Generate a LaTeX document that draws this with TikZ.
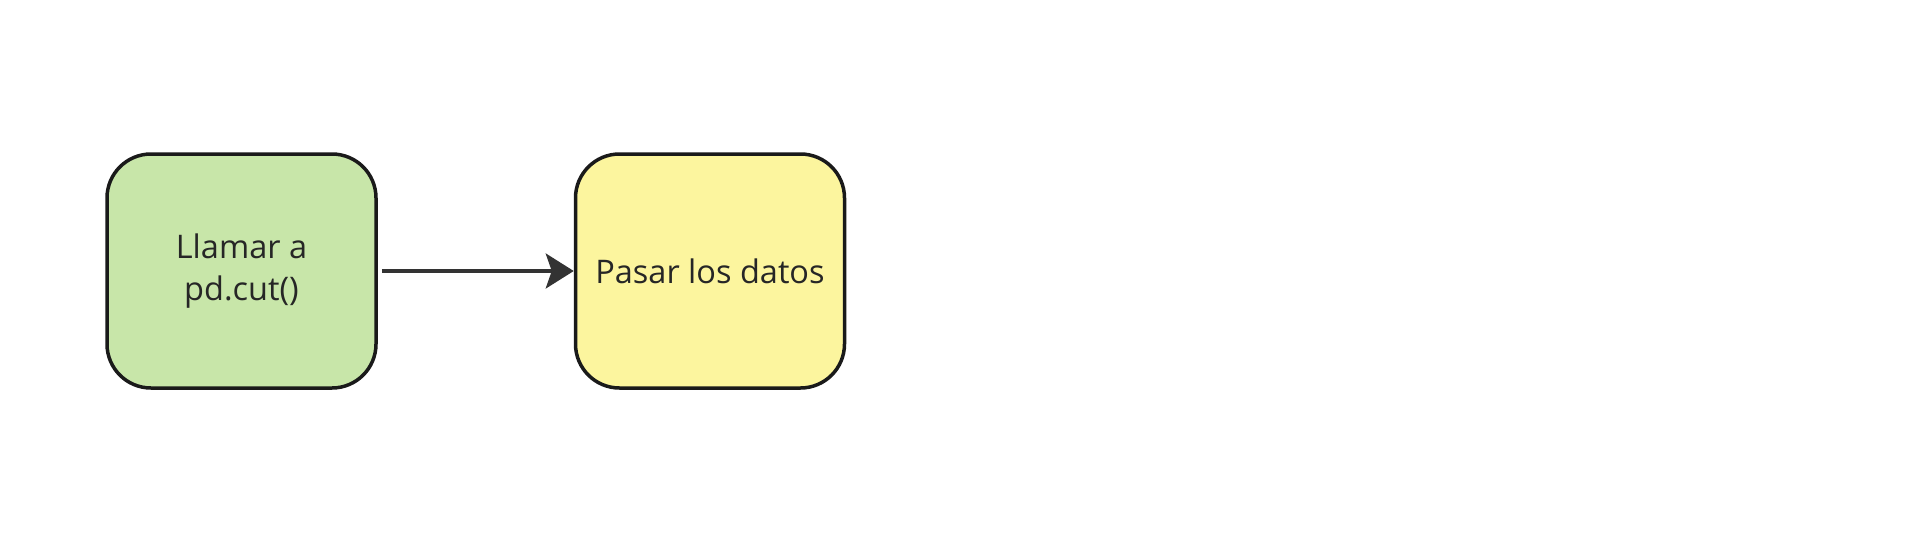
\documentclass[tikz,border=0pt]{standalone}
\usepackage{fontspec}
\setmainfont{Open Sans}
\usetikzlibrary{arrows.meta}
\definecolor{greenfill}{HTML}{C8E6A9}
\definecolor{yellowfill}{HTML}{FCF59E}
\definecolor{edge}{HTML}{1A1A1A}
\definecolor{arrowc}{HTML}{333333}
\begin{document}
\begin{tikzpicture}[x=1pt,y=-1pt,
  box/.style={draw=edge, line width=3.5pt, rounded corners=44pt, minimum width=269pt, minimum height=234pt, align=center, font=\fontsize{32.5}{42}\selectfont, text=black!85, inner sep=0pt},
  conn/.style={draw=arrowc, line width=3.5pt, -{Stealth[length=28pt,width=35pt,inset=6pt,fill=arrowc]}}]
\fill[white] (0,0) rectangle (1912,544);
\useasboundingbox (0,0) rectangle (1912,544);
\node[box, fill=greenfill] (call) at (241.5,271) {Llamar a\\pd.cut()};
\node[box, fill=yellowfill] (pass) at (710,271) {Pasar los datos};
\draw[conn] ([xshift=4pt]call.east) -- (pass.west);
\end{tikzpicture}
\end{document}
